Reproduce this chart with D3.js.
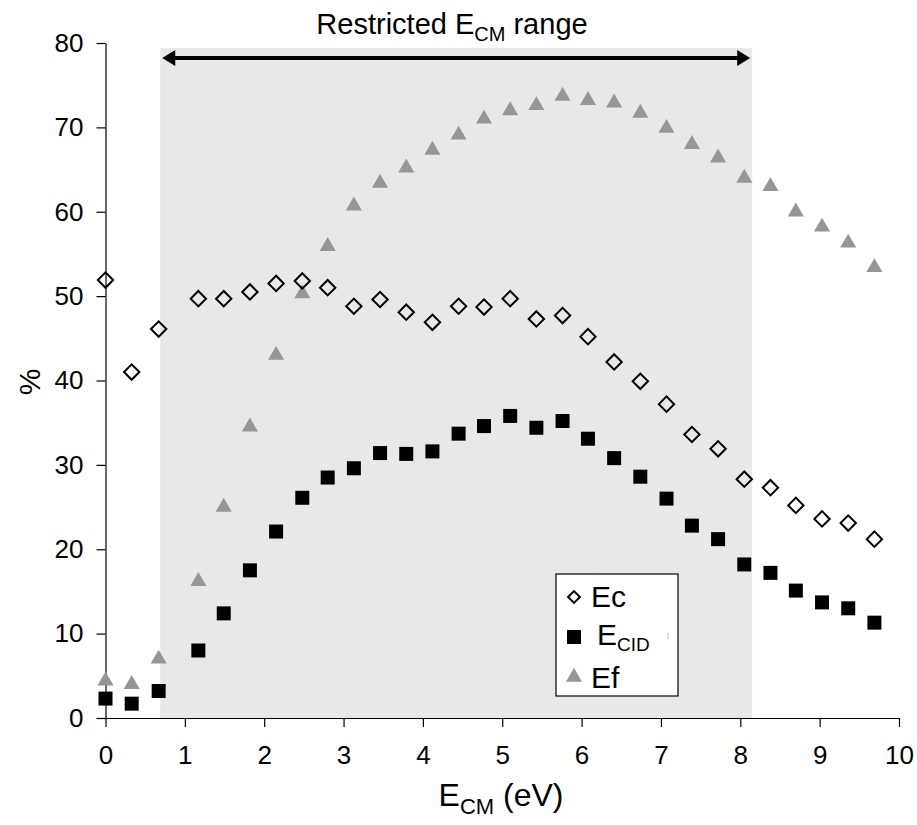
<!DOCTYPE html>
<html>
<head>
<meta charset="utf-8">
<script src="https://cdn.jsdelivr.net/npm/d3@7"></script>
<style>
	body { margin: 0; background: #fff; }
	text { font-family: "Liberation Sans", Arial, sans-serif; fill: #000; }
</style>
</head>
<body>
<svg id="chart"></svg>
<script>
const energy = [0, 0.33, 0.67, 1.17, 1.49, 1.82, 2.15, 2.48, 2.80, 3.13, 3.46, 3.79, 4.12, 4.45, 4.77,
	5.10, 5.43, 5.76, 6.08, 6.41, 6.74, 7.07, 7.39, 7.72, 8.05, 8.38, 8.70, 9.03, 9.36, 9.69];
const ec = [51.9, 41.0, 46.1, 49.7, 49.7, 50.5, 51.5, 51.8, 51.0, 48.8, 49.6, 48.1, 46.9, 48.8, 48.7,
	49.7, 47.3, 47.7, 45.2, 42.2, 39.9, 37.2, 33.6, 31.9, 28.3, 27.3, 25.2, 23.6, 23.1, 21.2];
const ecid = [2.3, 1.7, 3.2, 8.0, 12.4, 17.5, 22.1, 26.1, 28.5, 29.6, 31.4, 31.3, 31.6, 33.7, 34.6,
	35.8, 34.4, 35.2, 33.1, 30.8, 28.6, 26.0, 22.8, 21.2, 18.2, 17.2, 15.1, 13.7, 13.0, 11.3];
const ef = [4.4, 4.0, 7.0, 16.2, 25.0, 34.5, 43.0, 50.3, 55.9, 60.7, 63.4, 65.2, 67.3, 69.1, 71.0,
	72.0, 72.6, 73.7, 73.2, 72.9, 71.7, 69.9, 68.0, 66.4, 64.0, 63.0, 60.0, 58.2, 56.3, 53.4];
const xTicks = [0, 1, 2, 3, 4, 5, 6, 7, 8, 9, 10];
const yTicks = [0, 10, 20, 30, 40, 50, 60, 70, 80];
const restricted = [0.69, 8.15];

const W = 917, H = 825;
const svg = d3.select('#chart').attr('width', W).attr('height', H);

const x = d3.scaleLinear().domain([0, 10]).range([105.5, 899]);
const y = d3.scaleLinear().domain([0, 80]).range([718, 43]);

// shaded restricted range
svg.append('rect')
	.attr('x', x(restricted[0])).attr('y', y(79.4))
	.attr('width', x(restricted[1]) - x(restricted[0]))
	.attr('height', y(0) - y(79.4))
	.attr('fill', '#e8e8e8');

// axes
const xAxis = svg.append('g')
	.attr('transform', `translate(0,${y(0)})`)
	.call(d3.axisBottom(x).tickValues(xTicks).tickSize(9).tickPadding(19).tickSizeOuter(0));
const yAxis = svg.append('g')
	.attr('transform', `translate(${x(0)},0)`)
	.call(d3.axisLeft(y).tickValues(yTicks).tickSize(9).tickPadding(13).tickSizeOuter(0));
[xAxis, yAxis].forEach(a => {
	a.selectAll('path, line').attr('stroke', '#000').attr('stroke-width', 1.2);
	a.selectAll('text').style('font-size', '26px').attr('fill', '#000');
});
xAxis.select('.domain').attr('d', `M${x(0)},0.5H${x(10)}`);

// arrow
const arrowY = 58;
const ax0 = x(restricted[0]) + 2, ax1 = x(restricted[1]) - 2;
svg.append('line')
	.attr('x1', ax0 + 10).attr('x2', ax1 - 10)
	.attr('y1', arrowY).attr('y2', arrowY)
	.attr('stroke', '#000').attr('stroke-width', 4);
svg.append('path')
	.attr('d', `M${ax0},${arrowY}L${ax0 + 13},${arrowY - 8}L${ax0 + 13},${arrowY + 8}Z`)
	.attr('fill', '#000');
svg.append('path')
	.attr('d', `M${ax1},${arrowY}L${ax1 - 13},${arrowY - 8}L${ax1 - 13},${arrowY + 8}Z`)
	.attr('fill', '#000');

const title = svg.append('text')
	.attr('x', 452).attr('y', 34)
	.attr('text-anchor', 'middle')
	.style('font-size', '29px');
title.append('tspan').text('Restricted E');
title.append('tspan').attr('dy', 7).style('font-size', '20px').text('CM');
title.append('tspan').attr('dy', -7).text(' range');

// axis titles
const xTitle = svg.append('text')
	.attr('x', 501).attr('y', 806)
	.attr('text-anchor', 'middle')
	.style('font-size', '32px');
xTitle.append('tspan').text('E');
xTitle.append('tspan').attr('dy', 8).style('font-size', '22px').text('CM');
xTitle.append('tspan').attr('dy', -8).text(' (eV)');

svg.append('text')
	.attr('transform', 'translate(40,382) rotate(-90)')
	.attr('text-anchor', 'middle')
	.style('font-size', '30px')
	.text('%');

// markers
const diamond = d3.symbol().type(d3.symbolSquare).size(118);
const square = d3.symbol().type(d3.symbolSquare).size(196);
const triangle = d3.symbol().type(d3.symbolTriangle).size(112);

const pts = (vals) => energy.map((e, i) => [e, vals[i]]);

svg.append('g').selectAll('path').data(pts(ef))
	.enter().append('path')
		.attr('d', triangle)
		.attr('transform', d => `translate(${x(d[0])},${y(d[1])})`)
		.attr('fill', '#969696');

svg.append('g').selectAll('path').data(pts(ecid))
	.enter().append('path')
		.attr('d', square)
		.attr('transform', d => `translate(${x(d[0])},${y(d[1])})`)
		.attr('fill', '#000');

svg.append('g').selectAll('path').data(pts(ec))
	.enter().append('path')
		.attr('d', diamond)
		.attr('transform', d => `translate(${x(d[0])},${y(d[1])}) rotate(45)`)
		.attr('fill', 'none')
		.attr('stroke', '#000')
		.attr('stroke-width', 2);

// legend
const legend = svg.append('g').attr('transform', 'translate(556,574)');
legend.append('rect')
	.attr('width', 122).attr('height', 122)
	.attr('fill', '#fff').attr('stroke', '#000').attr('stroke-width', 1.2);

legend.append('path')
	.attr('d', d3.symbol().type(d3.symbolSquare).size(70))
	.attr('transform', 'translate(18,23) rotate(45)')
	.attr('fill', 'none').attr('stroke', '#000').attr('stroke-width', 2);
legend.append('text').attr('x', 35).attr('y', 33).style('font-size', '30px').text('Ec');

legend.append('path')
	.attr('d', d3.symbol().type(d3.symbolSquare).size(196))
	.attr('transform', 'translate(18,63)')
	.attr('fill', '#000');
const lcid = legend.append('text').attr('x', 41).attr('y', 71).style('font-size', '30px');
lcid.append('tspan').text('E');
lcid.append('tspan').attr('dy', 6).style('font-size', '19px').text('CID');
legend.append('line')
	.attr('x1', 112).attr('x2', 112).attr('y1', 59).attr('y2', 65)
	.attr('stroke', '#bbb').attr('stroke-width', 1);

legend.append('path')
	.attr('d', triangle)
	.attr('transform', 'translate(18,103)')
	.attr('fill', '#969696');
legend.append('text').attr('x', 35).attr('y', 114).style('font-size', '30px').text('Ef');
</script>
</body>
</html>
